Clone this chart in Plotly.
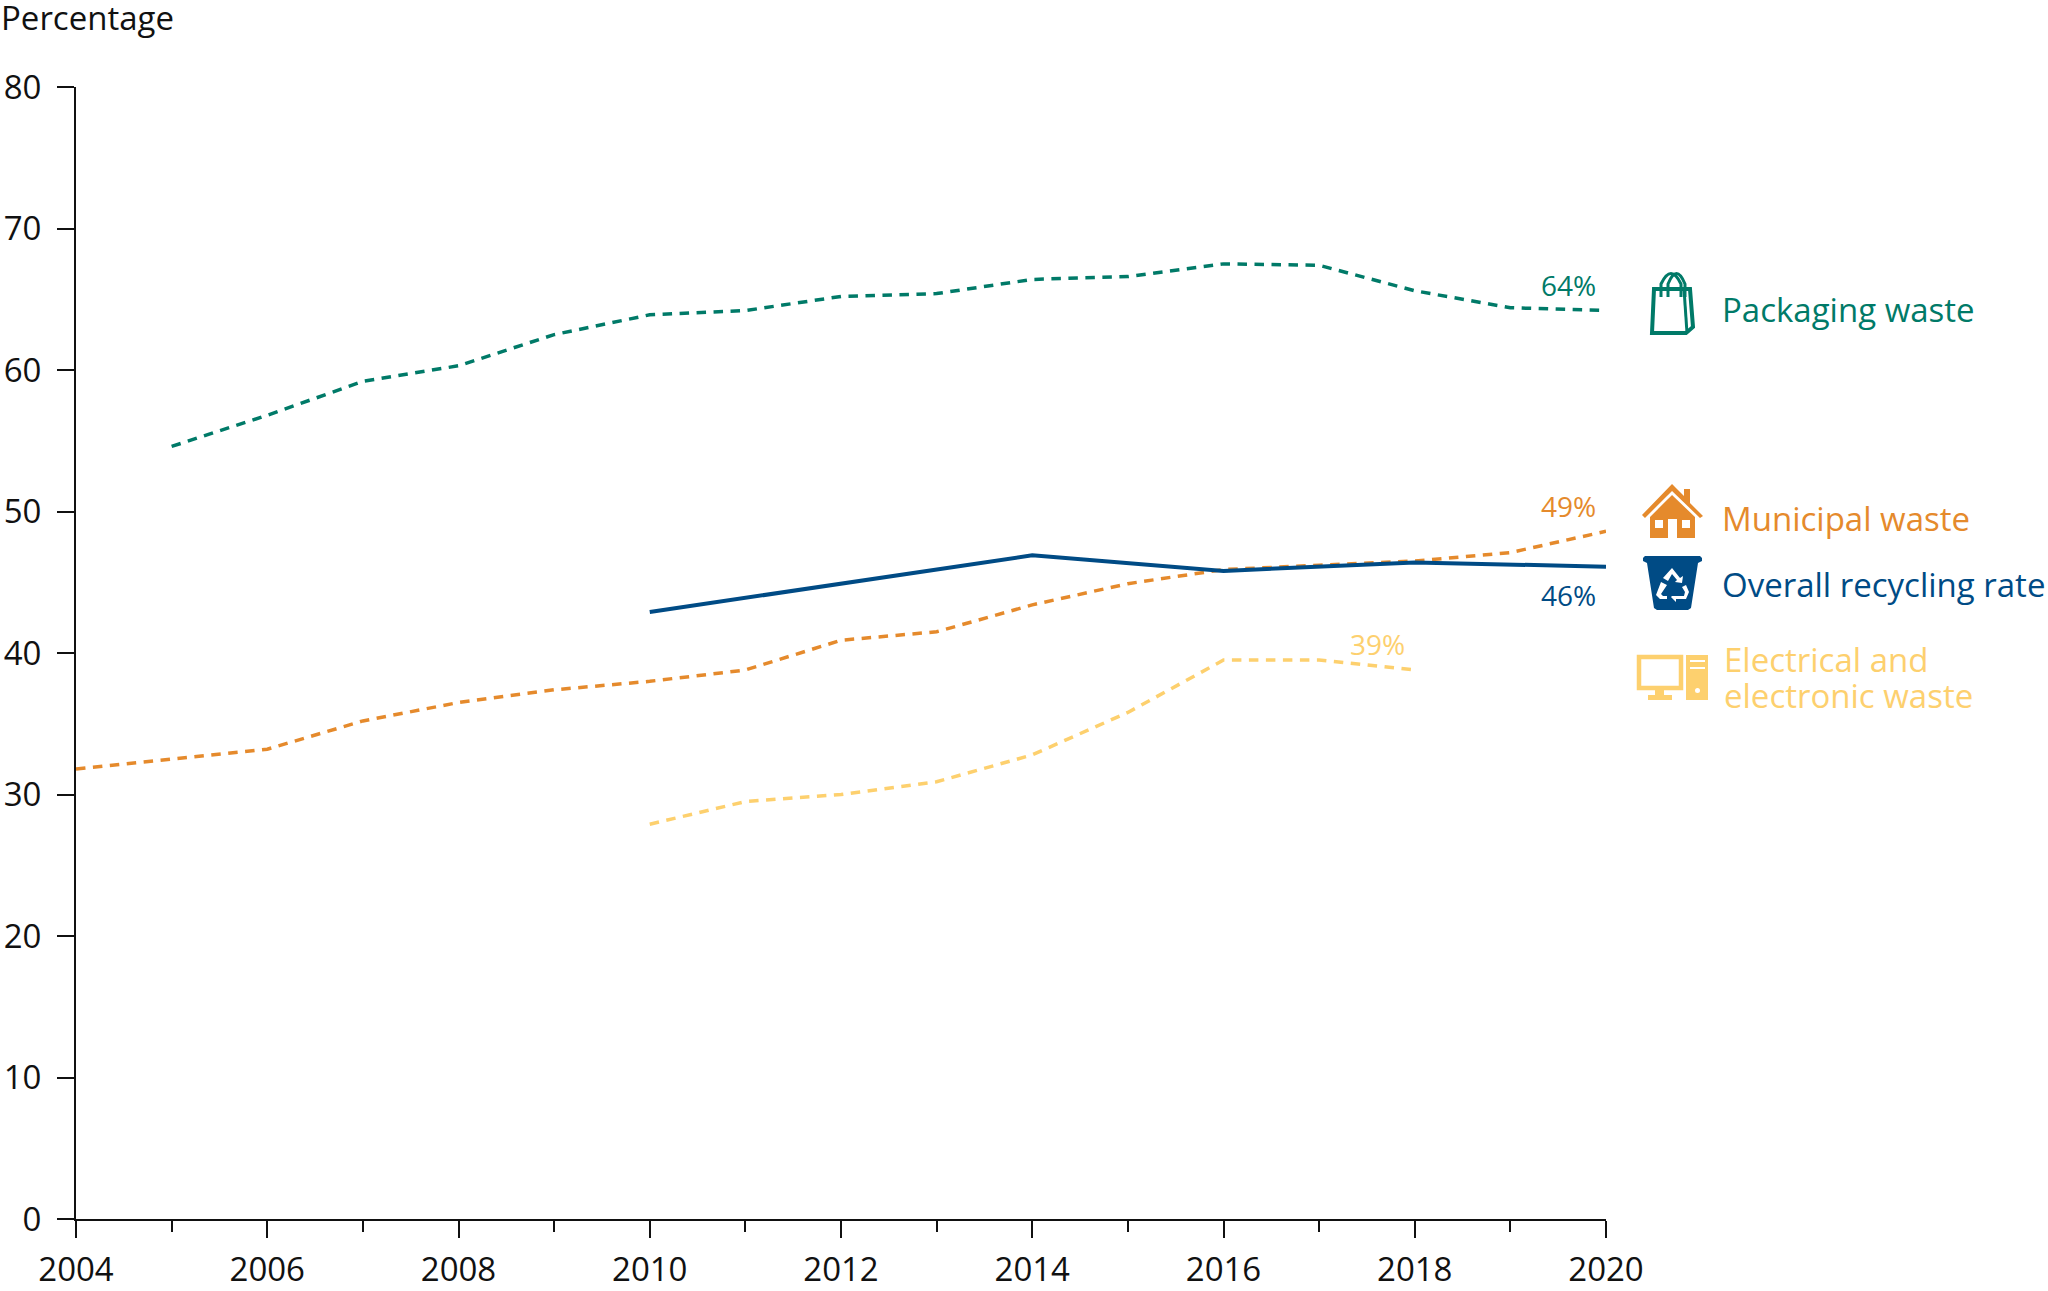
import plotly.graph_objects as go

years = list(range(2004, 2021))
packaging = [None, 54.6, 56.8, 59.2, 60.3, 62.5, 63.9, 64.2, 65.2, 65.4, 66.4, 66.6, 67.5, 67.4, 65.6, 64.4, 64.2]
municipal = [31.8, 32.5, 33.2, 35.2, 36.5, 37.4, 38.0, 38.8, 40.9, 41.5, 43.4, 44.9, 45.9, 46.2, 46.5, 47.1, 48.6]
overall_years = [2010, 2014, 2016, 2018, 2020]
overall = [42.9, 46.9, 45.8, 46.4, 46.1]
electrical = [None]*6 + [27.9, 29.5, 30.0, 30.9, 32.8, 35.8, 39.5, 39.5, 38.8] + [None]*2

GREEN = "#007a68"
ORANGE = "#e58a2c"
BLUE = "#004b85"
YELLOW = "#fdd06e"
BLACK = "#111111"
FONT = "Open Sans"

W, H = 2048, 1291
L, R, T, B = 76, 1606, 87, 1219


def px(x):
    return (x - L) / (R - L)


def py(y):
    return (B - y) / (B - T)


fig = go.Figure()
DASH = "9.5px,7.5px"
fig.add_trace(go.Scatter(x=years, y=packaging, mode="lines", line=dict(color=GREEN, width=3.5, dash=DASH), showlegend=False))
fig.add_trace(go.Scatter(x=years, y=municipal, mode="lines", line=dict(color=ORANGE, width=3.5, dash=DASH), showlegend=False))
fig.add_trace(go.Scatter(x=years, y=electrical, mode="lines", line=dict(color=YELLOW, width=3.5, dash=DASH), showlegend=False))
fig.add_trace(go.Scatter(x=overall_years, y=overall, mode="lines", line=dict(color=BLUE, width=4), showlegend=False))

annots = []
annots.append(dict(text="Percentage", x=px(-1), y=py(17), xref="paper", yref="paper", xanchor="left", yanchor="middle",
                   showarrow=False, font=dict(family=FONT, size=33, color=BLACK)))
for lab, col, xp, yp in [
    ("64%", GREEN, 1598, 285), ("49%", ORANGE, 1598, 506),
    ("46%", BLUE, 1598, 595), ("39%", YELLOW, 1407, 644)]:
    annots.append(dict(text=lab, x=px(xp), y=py(yp), xref="paper", yref="paper", xanchor="right", yanchor="middle",
                       showarrow=False, font=dict(family=FONT, size=28, color=col)))
for lab, col, xp, yp in [
    ("Packaging waste", GREEN, 1720, 310), ("Municipal waste", ORANGE, 1720, 518),
    ("Overall recycling rate", BLUE, 1720, 584), ("Electrical and", YELLOW, 1722, 659),
    ("electronic waste", YELLOW, 1722, 695)]:
    annots.append(dict(text=lab, x=px(xp), y=py(yp), xref="paper", yref="paper", xanchor="left", yanchor="middle", align="left",
                       showarrow=False, font=dict(family=FONT, size=33, color=col)))


def poly(pts):
    return "M" + " L".join(f"{px(x):.5f},{py(y):.5f}" for x, y in pts) + " Z"


def ishape(path, fill=None, line=None, w=0):
    return dict(type="path", xref="paper", yref="paper", path=path,
                fillcolor=fill if fill else "rgba(0,0,0,0)",
                line=dict(color=line if line else "rgba(0,0,0,0)", width=w), layer="above")


def rect(x0, y0, x1, y1, fill):
    return dict(type="rect", xref="paper", yref="paper", x0=px(x0), x1=px(x1), y0=py(y0), y1=py(y1),
                fillcolor=fill, line=dict(width=0), layer="above")


shapes = []
# Bag
shapes.append(ishape(poly([(1654, 289), (1652, 333), (1686, 333), (1693, 327), (1690, 289)]), None, GREEN, 4))
shapes.append(ishape(f"M{px(1684)},{py(289)} L{px(1687)},{py(333)}", None, GREEN, 3))
for x0, x1 in [(1661, 1681), (1668, 1685)]:
    xm = (x0 + x1) / 2
    shapes.append(ishape(f"M{px(x0)},{py(297)} L{px(x0)},{py(284)} Q{px(xm)},{py(263)} {px(x1)},{py(284)} L{px(x1)},{py(297)}", None, GREEN, 3))
# House
shapes.append(ishape(poly([(1642, 515), (1672, 484), (1684, 496), (1684, 489), (1690, 489), (1690, 503), (1703, 516), (1700, 518), (1672, 491), (1645, 518)]), ORANGE))
shapes.append(ishape(poly([(1650, 517), (1672, 495), (1695, 517), (1695, 538), (1677, 538), (1677, 519), (1668, 519), (1668, 538), (1650, 538)]), ORANGE))
shapes.append(rect(1655, 520, 1663, 528, "white"))
shapes.append(rect(1682, 520, 1690, 528, "white"))
# Bin
shapes.append(ishape(poly([(1645, 556), (1700, 556), (1702, 558), (1702, 561), (1698, 563), (1691, 608), (1688, 610), (1657, 610), (1654, 608), (1647, 563), (1643, 561), (1643, 558)]), BLUE))
for tri in [
    [(1672, 568), (1680, 578), (1683, 576), (1682, 583), (1675, 582), (1677, 580), (1672, 574), (1668, 581), (1663, 578)],
    [(1661, 582), (1667, 585), (1661, 594), (1663, 596), (1667, 596), (1667, 599), (1660, 599), (1656, 595)],
    [(1672, 596), (1684, 596), (1685, 592), (1682, 587), (1686, 585), (1689, 592), (1686, 599), (1676, 599), (1676, 602), (1671, 597)]]:
    shapes.append(ishape(poly(tri), "white"))
# Computer
shapes.append(ishape(poly([(1639, 657), (1681, 657), (1681, 688), (1639, 688)]), None, YELLOW, 4.5))
shapes.append(rect(1655, 690, 1664, 696, YELLOW))
shapes.append(rect(1648, 695, 1672, 700, YELLOW))
shapes.append(rect(1686, 655, 1708, 700, YELLOW))
shapes.append(rect(1690, 660, 1705, 662, "white"))
shapes.append(rect(1690, 667, 1705, 669, "white"))
shapes.append(dict(type="circle", xref="paper", yref="paper", x0=px(1695), x1=px(1700), y0=py(693), y1=py(688),
                   fillcolor="white", line=dict(width=0), layer="above"))

axis_common = dict(showgrid=False, zeroline=False, showline=True, linecolor=BLACK, linewidth=2,
                   tickcolor=BLACK, tickwidth=2, ticks="outside", automargin=False,
                   tickfont=dict(family=FONT, size=33, color=BLACK))
fig.update_layout(
    width=W, height=H, autosize=False,
    margin=dict(l=L, r=W - R, t=T, b=H - B, pad=0),
    paper_bgcolor="white", plot_bgcolor="white",
    showlegend=False, annotations=annots, shapes=shapes,
    xaxis=dict(range=[2004, 2020], tickmode="array", tickvals=list(range(2004, 2021, 2)),
               ticklen=17, ticklabelstandoff=3,
               minor=dict(tickmode="array", tickvals=list(range(2005, 2021, 2)), ticks="outside", ticklen=11, tickwidth=2, tickcolor=BLACK),
               **axis_common),
    yaxis=dict(range=[0, 80], tickmode="array", tickvals=list(range(0, 81, 10)), ticklen=17, ticklabelstandoff=9, **axis_common),
)
fig.write_html("out.html", post_script="document.body.style.margin='0';", config=dict(displayModeBar=False))
